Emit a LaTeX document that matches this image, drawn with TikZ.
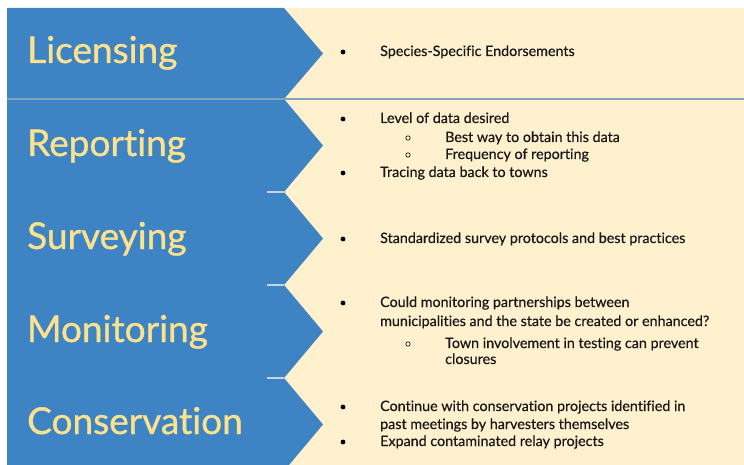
\documentclass[tikz,border=0pt]{standalone}
\usepackage{fontspec}
\setmainfont{Lato}
\newfontfamily\headfont{Lato}[Ligatures=NoCommon, FakeBold=0.9]
\newfontfamily\bodyfont{Lato}[Ligatures=NoCommon, FakeBold=0.5]
\definecolor{chevblue}{RGB}{62,131,196}
\definecolor{panelbeige}{RGB}{255,240,206}
\definecolor{headyellow}{RGB}{252,226,140}
\definecolor{ruleblue}{RGB}{128,166,184}
\definecolor{tickgray}{RGB}{196,212,228}
\tikzset{
  heading/.style={anchor=base west, inner sep=0pt, text=headyellow, font=\headfont\fontsize{37}{41}\selectfont},
  body/.style={anchor=base west, inner sep=0pt, text=black!90, font=\bodyfont\fontsize{14.3}{16}\selectfont},
  dotbullet/.style={circle, fill=black, inner sep=0pt, minimum size=4.8pt},
  ringbullet/.style={circle, draw=black, line width=0.6pt, inner sep=0pt, minimum size=4.4pt},
  notch/.style={draw=tickgray, line width=1.3pt}
}
\begin{document}
\begin{tikzpicture}[x=1pt,y=-1pt]
\useasboundingbox (0,0) rectangle (744,465);
\fill[white] (0,0) rectangle (744,465);
\fill[panelbeige] (7,8) rectangle (744,465);
\fill[chevblue] (7,8) -- (284,8) -- (323,53.5) -- (284,99) -- (323,145.5) -- (284,192)
  -- (323,238.5) -- (284,285) -- (323,331.5) -- (284,378) -- (323,424.5) -- (289,465)
  -- (7,465) -- cycle;
% separator rule and notch ticks
\draw[ruleblue, line width=1.4pt] (7,99) -- (744,99);
\draw[notch] (267,192) -- (284,192);
\draw[notch] (267,285) -- (284,285);
\draw[notch] (267,378) -- (284,378);
% headings
\node[heading] (h1) at (27,63) {Licensing};
\node[heading] (h2) at (27,156) {Reporting};
\node[heading] (h3) at (27,249) {Surveying};
\node[heading] (h4) at (27,342) {Monitoring};
\node[heading] (h5) at (27,434) {Conservation};
% Licensing
\node[dotbullet] (b1) at (343,52) {};
\node[body] (t1) at (380,56) {Species-Specific Endorsements};
% Reporting
\node[dotbullet] (b2) at (343,119) {};
\node[body] (t2) at (380,123) {Level of data desired};
\node[ringbullet] (r2a) at (408,138) {};
\node[body] (t2a) at (445,142) {Best way to obtain this data};
\node[ringbullet] (r2b) at (408,155) {};
\node[body] (t2b) at (445,159) {Frequency of reporting};
\node[dotbullet] (b2c) at (343,173) {};
\node[body] (t2c) at (380,177) {Tracing data back to towns};
% Surveying
\node[dotbullet] (b3) at (343,239) {};
\node[body] (t3) at (380,243) {Standardized survey protocols and best practices};
% Monitoring
\node[dotbullet] (b4) at (343,303) {};
\node[body] (t4) at (380,307) {Could monitoring partnerships between};
\node[body] (t4b) at (380,326) {municipalities and the state be created or enhanced?};
\node[ringbullet] (r4) at (408,344) {};
\node[body] (t4c) at (445,348) {Town involvement in testing can prevent};
\node[body] (t4d) at (445,364) {closures};
% Conservation
\node[dotbullet] (b5) at (343,407) {};
\node[body] (t5) at (380,411) {Continue with conservation projects identified in};
\node[body] (t5b) at (380,429) {past meetings by harvesters themselves};
\node[dotbullet] (b5c) at (343,442) {};
\node[body] (t5c) at (380,446) {Expand contaminated relay projects};
\end{tikzpicture}
\end{document}
